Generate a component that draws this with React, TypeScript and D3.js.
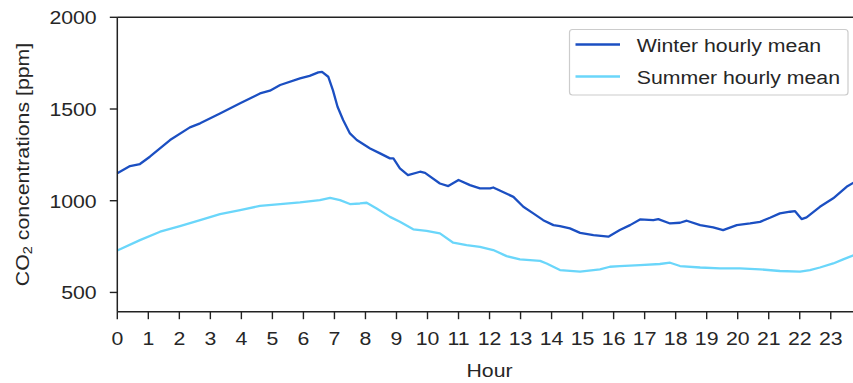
import React, { useEffect, useRef } from "react";
import * as d3 from "d3";

// hourly mean CO2 (hour of day, ppm)
const winterHours = [0, 0.41, 0.73, 1.05, 1.7, 2.34, 2.67, 3.31, 3.96, 4.6, 4.92, 5.25, 5.89, 6.2, 6.48, 6.6, 6.8, 6.95, 7.1, 7.28, 7.5, 7.72, 8.15, 8.47, 8.79, 8.9, 9.11, 9.37, 9.76, 9.92, 10.4, 10.67, 11.0, 11.37, 11.69, 12.02, 12.12, 12.77, 13.09, 13.41, 13.73, 14.06, 14.27, 14.59, 14.92, 15.35, 15.83, 16.2, 16.53, 16.85, 17.28, 17.44, 17.82, 18.14, 18.36, 18.79, 19.21, 19.53, 19.97, 20.4, 20.72, 21.04, 21.36, 21.69, 21.85, 22.06, 22.22, 22.65, 23.08, 23.51, 23.75];
const winterValues = [1150, 1189, 1200, 1240, 1331, 1400, 1422, 1476, 1531, 1585, 1600, 1631, 1667, 1681, 1700, 1703, 1676, 1603, 1512, 1440, 1367, 1331, 1285, 1258, 1231, 1231, 1176, 1140, 1158, 1152, 1094, 1080, 1113, 1085, 1067, 1067, 1072, 1021, 967, 931, 894, 867, 862, 849, 825, 813, 804, 840, 867, 898, 894, 900, 876, 880, 891, 867, 855, 840, 867, 876, 885, 907, 931, 940, 943, 900, 909, 967, 1013, 1076, 1100];

const summerHours = [0, 0.73, 1.38, 2.02, 2.67, 3.31, 3.96, 4.6, 5.25, 5.89, 6.53, 6.86, 7.18, 7.5, 7.82, 8.04, 8.36, 8.79, 9.11, 9.54, 9.97, 10.4, 10.83, 11.26, 11.69, 12.12, 12.55, 12.98, 13.63, 13.84, 14.27, 14.92, 15.56, 15.88, 16.2, 16.85, 17.49, 17.82, 18.14, 18.79, 19.43, 20.07, 20.72, 21.36, 22.01, 22.33, 22.65, 23.08, 23.4, 23.75];
const summerValues = [729, 785, 831, 862, 894, 927, 949, 972, 982, 991, 1003, 1016, 1003, 982, 985, 989, 958, 912, 885, 844, 836, 822, 771, 758, 749, 731, 698, 680, 672, 658, 622, 613, 626, 640, 644, 649, 655, 662, 644, 636, 631, 631, 626, 617, 613, 622, 636, 658, 680, 703];

const hourTicks = d3.range(0, 24);
const ppmTicks = [500, 1000, 1500, 2000];
const seriesNames = ["Winter hourly mean", "Summer hourly mean"];
const seriesColors = ["#1b4fc2", "#6ad6fa"];

const FONT = "'Liberation Sans', Arial, sans-serif";
const TEXT = "#262626";
const STRETCH = "scale(1.12,1)";

export default function App() {
  const svgRef = useRef<SVGSVGElement>(null);
  const width = 853;
  const height = 383;

  useEffect(() => {
    if (!svgRef.current) return;
    const svg = d3.select(svgRef.current);
    svg.selectAll("*").remove();

    const left = 117.3, top = 17.3, bottom = 311.7;
    const x = d3.scaleLinear().domain([0, 24]).range([left, left + 24 * 31.02]);
    const y = d3.scaleLinear().domain([395, 2000]).range([bottom, top]);

    const series = [
      winterHours.map((h, i) => [h, winterValues[i]] as [number, number]),
      summerHours.map((h, i) => [h, summerValues[i]] as [number, number]),
    ];

    const line = d3.line<[number, number]>().x(d => x(d[0])).y(d => y(d[1]));

    // data lines (summer below winter in drawing order as in the figure)
    svg.append("g")
      .selectAll("path")
      .data(series)
      .join("path")
        .attr("d", d => line(d))
        .attr("fill", "none")
        .attr("stroke", (_, i) => seriesColors[i])
        .attr("stroke-width", 2.3)
        .attr("stroke-linejoin", "round");

    // frame
    const frame = svg.append("g").attr("stroke", "#222").attr("stroke-width", 1.5);
    frame.append("line").attr("x1", left).attr("x2", x(24)).attr("y1", top).attr("y2", top);
    frame.append("line").attr("x1", left).attr("x2", x(24)).attr("y1", bottom).attr("y2", bottom);
    frame.append("line").attr("x1", left).attr("x2", left).attr("y1", top).attr("y2", bottom);

    // x ticks
    const xt = svg.append("g")
      .selectAll("g")
      .data(hourTicks)
      .join("g")
        .attr("transform", d => `translate(${x(d)},0)`);
    xt.append("line")
      .attr("y1", bottom).attr("y2", bottom + 7.5)
      .attr("stroke", "#222").attr("stroke-width", 1.4);
    xt.append("text")
      .attr("transform", `translate(0,${bottom + 33}) ${STRETCH}`)
      .attr("text-anchor", "middle")
      .attr("font-family", FONT).attr("font-size", 19).attr("fill", TEXT)
      .text(d => d);

    // y ticks
    const yt = svg.append("g")
      .selectAll("g")
      .data(ppmTicks)
      .join("g")
        .attr("transform", d => `translate(0,${y(d)})`);
    yt.append("line")
      .attr("x1", left - 7.5).attr("x2", left)
      .attr("stroke", "#222").attr("stroke-width", 1.4);
    yt.append("text")
      .attr("transform", `translate(96.7,6.8) ${STRETCH}`)
      .attr("text-anchor", "end")
      .attr("font-family", FONT).attr("font-size", 19).attr("fill", TEXT)
      .text(d => d);

    // axis titles
    svg.append("text")
      .attr("transform", `translate(${x(12)},376.5) ${STRETCH}`)
      .attr("text-anchor", "middle")
      .attr("font-family", FONT).attr("font-size", 19).attr("fill", TEXT)
      .text("Hour");

    const yl = svg.append("text")
      .attr("transform", `translate(29,${(top + bottom) / 2}) rotate(-90) ${STRETCH}`)
      .attr("text-anchor", "middle")
      .attr("font-family", FONT).attr("font-size", 19).attr("fill", TEXT);
    yl.append("tspan").text("CO");
    yl.append("tspan").attr("font-size", 13).attr("baseline-shift", -3).text("2");
    yl.append("tspan").text(" concentrations [ppm]");

    // legend
    const lg = svg.append("g");
    lg.append("rect")
      .attr("x", 569.5).attr("y", 29.5).attr("width", 278.5).attr("height", 65.5)
      .attr("rx", 3)
      .attr("fill", "white").attr("stroke", "#cccccc").attr("stroke-width", 1.2);
    const rows = lg.selectAll("g.row")
      .data(seriesNames)
      .join("g")
        .attr("class", "row")
        .attr("transform", (_, i) => `translate(0,${44.5 + i * 32})`);
    rows.append("line")
      .attr("x1", 575.5).attr("x2", 620)
      .attr("stroke", (_, i) => seriesColors[i])
      .attr("stroke-width", 2.5);
    rows.append("text")
      .attr("transform", `translate(636.7,7.2) ${STRETCH}`)
      .attr("font-family", FONT).attr("font-size", 19).attr("fill", TEXT)
      .text(d => d);
  }, []);

  return (
    <svg
      ref={svgRef}
      width={width}
      height={height}
      style={{ position: "absolute", left: 0, top: 0, background: "white", overflow: "hidden" }}
    />
  );
}
